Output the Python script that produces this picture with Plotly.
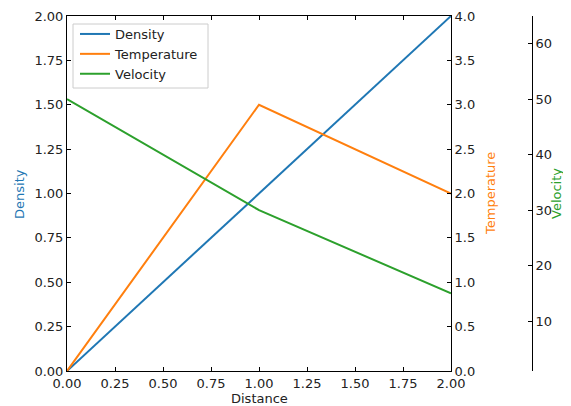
import plotly.graph_objects as go

distance = [0, 1, 2]
density = [0, 1, 2]
temperature = [0, 3, 2]
velocity = [50, 30, 15]

x_ticks = [0, 0.25, 0.5, 0.75, 1.0, 1.25, 1.5, 1.75, 2.0]
y1_ticks = [0, 0.25, 0.5, 0.75, 1.0, 1.25, 1.5, 1.75, 2.0]
y2_ticks = [0, 0.5, 1.0, 1.5, 2.0, 2.5, 3.0, 3.5, 4.0]
y3_ticks = [10, 20, 30, 40, 50, 60]

blue = "#1f77b4"
orange = "#ff7f0e"
green = "#2ca02c"
font = "DejaVu Sans"

fig = go.Figure()
fig.add_trace(go.Scatter(x=distance, y=density, mode="lines", name="Density",
                         line=dict(color=blue, width=2), yaxis="y"))
fig.add_trace(go.Scatter(x=distance, y=temperature, mode="lines", name="Temperature",
                         line=dict(color=orange, width=2), yaxis="y2"))
fig.add_trace(go.Scatter(x=distance, y=velocity, mode="lines", name="Velocity",
                         line=dict(color=green, width=2), yaxis="y3"))

OFF = 8  # page body margin
W, H = 571 - OFF, 406 - OFF
L, R, T, B = 67 - OFF, 0, 16 - OFF, 35
pw = W - L - R
ph = H - T - B
axis_common = dict(showgrid=False, zeroline=False, showline=True, linecolor="black",
                   linewidth=1, ticks="inside", ticklen=4, tickwidth=1, tickcolor="black",
                   automargin=False,
                   tickfont=dict(family=font, size=13, color="#222"))


def px_x(p):
    return (p - OFF - L) / pw


def px_y(p):
    return 1 - (p - OFF - T) / ph


titles = [
    ("Distance", "#222", 259, 399, 0),
    ("Density", blue, 19, 194, -90),
    ("Temperature", orange, 490, 194, -90),
    ("Velocity", green, 556, 194, -90),
]
annotations = [
    dict(text=t, x=px_x(x), y=px_y(y), xref="paper", yref="paper", showarrow=False,
         textangle=a, xanchor="center", yanchor="middle",
         font=dict(family=font, size=13, color=c))
    for t, c, x, y, a in titles
]

legend_box = dict(type="rect", xref="paper", yref="paper",
                  x0=px_x(73), x1=px_x(208), y0=px_y(88), y1=px_y(24),
                  line=dict(color="#cccccc", width=1), fillcolor="rgba(255,255,255,0.8)",
                  layer="above")

fig.update_layout(
    width=W, height=H,
    margin=dict(l=L, r=R, t=T, b=B, autoexpand=False),
    paper_bgcolor="white", plot_bgcolor="white",
    font=dict(family=font, size=13, color="#222"),
    showlegend=True,
    shapes=[legend_box],
    legend=dict(x=px_x(75), y=px_y(19), xanchor="left", yanchor="top",
                borderwidth=0, bgcolor="rgba(0,0,0,0)",
                font=dict(family=font, size=13, color="#222"), tracegroupgap=0,
                itemwidth=30),
    annotations=annotations,
    xaxis=dict(domain=[0, 384 / pw], range=[0, 2], tickvals=x_ticks,
               ticktext=[f"{v:.2f}" for v in x_ticks], mirror="ticks", **axis_common),
    yaxis=dict(range=[0, 2], tickvals=y1_ticks, ticktext=[f"{v:.2f}" for v in y1_ticks],
               **axis_common),
    yaxis2=dict(range=[0, 4], tickvals=y2_ticks, ticktext=[f"{v:.1f}" for v in y2_ticks],
                overlaying="y", side="right", anchor="x", **axis_common),
    yaxis3=dict(range=[1, 65], tickvals=y3_ticks, ticktext=[str(v) for v in y3_ticks],
                overlaying="y", side="right", anchor="free", position=px_x(532),
                **axis_common),
)

fig.write_html("out.html")
